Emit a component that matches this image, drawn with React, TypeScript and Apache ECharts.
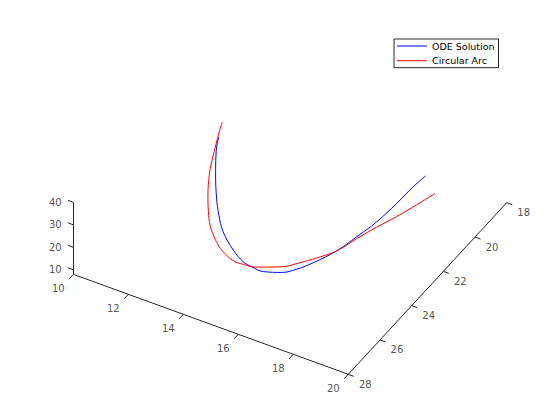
import React, { useEffect, useRef } from "react";
import * as echarts from "echarts";

// ODE solution (blue), 3-D points
const odeX = [10.71, 10.85, 11.14, 11.69, 12.36, 12.88, 13.45, 14.23, 14.82, 15.2, 15.67, 16.25, 16.66, 17.09, 17.6, 17.96, 18.3, 18.55, 18.75, 18.93];
const odeY = [20.03, 20.39, 20.97, 21.95, 23.05, 23.81, 24.53, 25.24, 25.64, 25.77, 25.85, 25.69, 25.46, 25.16, 24.56, 23.93, 23.25, 22.42, 21.73, 21.26];
const odeZ = [11.5, 12, 12.5, 13.5, 14.5, 15.2, 15.8, 16.5, 17, 17.5, 18, 19, 20.5, 23, 26, 29, 32, 35, 38, 40];

// Circular arc (red), 3-D points
const arcX = [10.34, 10.62, 10.92, 11.19, 11.49, 12.01, 12.5, 12.91, 13.28, 13.72, 14.05, 14.58, 14.97, 15.39, 15.85, 16.22, 16.7, 17.12, 17.6, 17.95, 18.32, 18.71, 19.07, 19.4];
const arcY = [19.19, 19.92, 20.65, 21.33, 22.0, 22.99, 23.81, 24.42, 24.85, 25.31, 25.57, 25.85, 25.9, 25.88, 25.74, 25.64, 25.32, 25.0, 24.56, 23.92, 23.28, 22.71, 22.07, 21.49];
const arcZ = [10, 11, 12, 12.5, 13, 14, 15, 15.5, 16, 17, 17.5, 18, 18.5, 19, 20, 21, 22.5, 24, 26, 28, 30, 32, 34, 36];

const xTicks = [10, 12, 14, 16, 18, 20];
const yTicks = [18, 20, 22, 24, 26, 28];
const zTicks = [10, 20, 30, 40];
const xLim = [10, 20];
const yLim = [18, 28];
const zLim = [8, 40];

// orthographic view: screen offset per data unit
const ORIGIN = [73.3, 274.3];
const EX = [27.5, 10];
const EY = [-15.84, 17.16];
const EZ = [0, -2.25];

function project(x: number, y: number, z: number): [number, number] {
  const dx = x - xLim[0];
  const dy = y - yLim[1];
  const dz = z - zLim[0];
  return [
    ORIGIN[0] + EX[0] * dx + EY[0] * dy + EZ[0] * dz,
    ORIGIN[1] + EX[1] * dx + EY[1] * dy + EZ[1] * dz,
  ];
}

const AX = "#262626";
const FONT = "DejaVu Sans";
const LINE_ICON = "path://M0,0H30V1H0Z";

export default function App() {
  const ref = useRef<HTMLDivElement>(null);
  useEffect(() => {
    document.body.style.margin = "0";
    const chart = echarts.init(ref.current!, null, { renderer: "svg" });

    const odeData = odeX.map((x, i) => project(x, odeY[i], odeZ[i]));
    const arcData = arcX.map((x, i) => project(x, arcY[i], arcZ[i]));

    const segs: any[] = [];
    // axis lines
    segs.push({ coords: [project(xLim[0], yLim[1], zLim[0]), project(xLim[1], yLim[1], zLim[0])] });
    segs.push({ coords: [project(xLim[1], yLim[1], zLim[0]), project(xLim[1], yLim[0], zLim[0])] });
    segs.push({ coords: [project(xLim[0], yLim[1], zLim[0]), project(xLim[0], yLim[1], zLim[1])] });
    // ticks
    xTicks.forEach((t) => segs.push({ coords: [project(t, yLim[1], zLim[0]), project(t, yLim[1] + 0.26, zLim[0])] }));
    yTicks.forEach((t) => segs.push({ coords: [project(xLim[1], t, zLim[0]), project(xLim[1] + 0.2, t, zLim[0])] }));
    zTicks.forEach((t) => segs.push({ coords: [project(xLim[0], yLim[1], t), project(xLim[0] - 0.2, yLim[1], t)] }));

    const labelSeries = (ticks: number[], pos: (t: number) => [number, number], offset: number[]) => ({
      type: "scatter",
      symbolSize: 0,
      silent: true,
      data: ticks.map((t) => ({ value: pos(t), name: String(t) })),
      label: {
        show: true,
        position: "inside",
        offset,
        formatter: "{b}",
        color: AX,
        fontFamily: FONT,
        fontSize: 10,
      },
    });

    chart.setOption({
      animation: false,
      grid: { left: 0, right: 0, top: 0, bottom: 0 },
      xAxis: { type: "value", min: 0, max: 560, show: false },
      yAxis: { type: "value", min: 0, max: 420, inverse: true, show: false },
      legend: {
        data: [
          { name: "ODE Solution", icon: LINE_ICON },
          { name: "Circular Arc", icon: LINE_ICON },
        ],
        orient: "vertical",
        left: 394,
        top: 39,
        padding: [1, 4, 1, 3],
        itemGap: 2.7,
        itemWidth: 30,
        itemHeight: 1,
        backgroundColor: "#ffffff",
        borderColor: AX,
        borderWidth: 1,
        borderRadius: 0,
        selectedMode: false,
        textStyle: { fontFamily: FONT, fontSize: 9.5, color: "#000", lineHeight: 12 },
      },
      series: [
        {
          type: "lines",
          coordinateSystem: "cartesian2d",
          silent: true,
          lineStyle: { color: AX, width: 1, opacity: 1 },
          data: segs,
        },
        labelSeries(xTicks, (t) => project(t, yLim[1], zLim[0]), [-15, 14]),
        labelSeries(yTicks, (t) => project(xLim[1], t, zLim[0]), [17, 10]),
        labelSeries(zTicks, (t) => project(xLim[0], yLim[1], t), [-18, 0]),
        {
          name: "ODE Solution",
          type: "line",
          symbol: "none",
          smooth: 0.4,
          data: odeData,
          lineStyle: { color: "#0000ff", width: 1 },
          itemStyle: { color: "#0000ff" },
        },
        {
          name: "Circular Arc",
          type: "line",
          symbol: "none",
          smooth: 0.4,
          data: arcData,
          lineStyle: { color: "#ff0000", width: 1 },
          itemStyle: { color: "#ff0000" },
        },
      ],
    });
    return () => chart.dispose();
  }, []);
  return <div ref={ref} style={{ width: 560, height: 420, background: "#fff" }} />;
}
